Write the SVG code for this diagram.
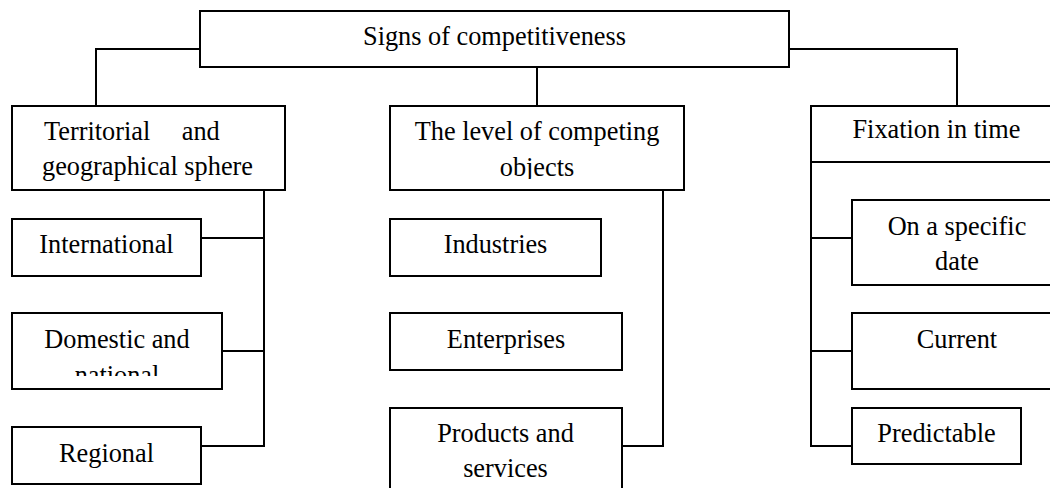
<svg xmlns="http://www.w3.org/2000/svg" width="1050" height="488" viewBox="0 0 1050 488">
<style>
.box{fill:#fff;stroke:#000;stroke-width:2}
.ln{fill:none;stroke:#000;stroke-width:2}
text{font-family:"Liberation Serif","Times New Roman",serif;font-size:26.3px;fill:#000}
.c{text-anchor:middle}
</style>
<defs>
<clipPath id="clipTerr"><rect x="12" y="106" width="273" height="79"/></clipPath>
<clipPath id="clipLevel"><rect x="390" y="106" width="294" height="73"/></clipPath>
<clipPath id="clipDom"><rect x="12" y="313" width="210" height="63"/></clipPath>
</defs>
<g id="connectors">
<polyline class="ln" points="200,49 96,49 96,106"/>
<line class="ln" x1="537" y1="67" x2="537" y2="106"/>
<polyline class="ln" points="789,49 957,49 957,106"/>
<line class="ln" x1="264" y1="190" x2="264" y2="446"/>
<line class="ln" x1="201" y1="238" x2="264" y2="238"/>
<line class="ln" x1="222" y1="351" x2="264" y2="351"/>
<line class="ln" x1="201" y1="446" x2="265" y2="446"/>
<line class="ln" x1="663" y1="190" x2="663" y2="446"/>
<line class="ln" x1="622" y1="446" x2="664" y2="446"/>
<line class="ln" x1="811" y1="162" x2="811" y2="446"/>
<line class="ln" x1="810" y1="238" x2="852" y2="238"/>
<line class="ln" x1="810" y1="351" x2="852" y2="351"/>
<line class="ln" x1="810" y1="446" x2="852" y2="446"/>
</g>
<g id="root">
<rect class="box" x="200" y="11" width="589" height="56"/>
<text class="c" x="494.5" y="45">Signs of competitiveness</text>
</g>
<g id="territorial">
<rect class="box" x="12" y="106" width="273" height="84"/>
<g clip-path="url(#clipTerr)">
<text x="44" y="140" word-spacing="25px">Territorial and</text>
<text class="c" x="147.5" y="175">geographical sphere</text>
</g>
</g>
<g id="level">
<rect class="box" x="390" y="106" width="294" height="84"/>
<g clip-path="url(#clipLevel)">
<text class="c" x="537" y="140">The level of competing</text>
<text class="c" x="537" y="176">objects</text>
</g>
</g>
<g id="fixation">
<rect class="box" x="811" y="106" width="251" height="56"/>
<text class="c" x="936.5" y="138">Fixation in time</text>
</g>
<g id="international">
<rect class="box" x="12" y="219" width="189" height="57"/>
<text class="c" x="106.5" y="253">International</text>
</g>
<g id="domestic">
<rect class="box" x="12" y="313" width="210" height="76"/>
<g clip-path="url(#clipDom)">
<text class="c" x="117" y="348">Domestic and</text>
<text class="c" x="117" y="384">national</text>
</g>
</g>
<g id="regional">
<rect class="box" x="12" y="427" width="189" height="57"/>
<text class="c" x="106.5" y="462">Regional</text>
</g>
<g id="industries">
<rect class="box" x="390" y="219" width="211" height="57"/>
<text class="c" x="495.5" y="253">Industries</text>
</g>
<g id="enterprises">
<rect class="box" x="390" y="313" width="232" height="57"/>
<text class="c" x="506" y="348">Enterprises</text>
</g>
<g id="products">
<rect class="box" x="390" y="408" width="232" height="90"/>
<text class="c" x="505.5" y="442">Products and</text>
<text class="c" x="505.5" y="477">services</text>
</g>
<g id="specific-date">
<rect class="box" x="852" y="200" width="210" height="85"/>
<text class="c" x="957" y="235">On a specific</text>
<text class="c" x="957" y="270">date</text>
</g>
<g id="current">
<rect class="box" x="852" y="313" width="210" height="76"/>
<text class="c" x="957" y="348">Current</text>
</g>
<g id="predictable">
<rect class="box" x="852" y="408" width="169" height="56"/>
<text class="c" x="936.5" y="442">Predictable</text>
</g>
</svg>
